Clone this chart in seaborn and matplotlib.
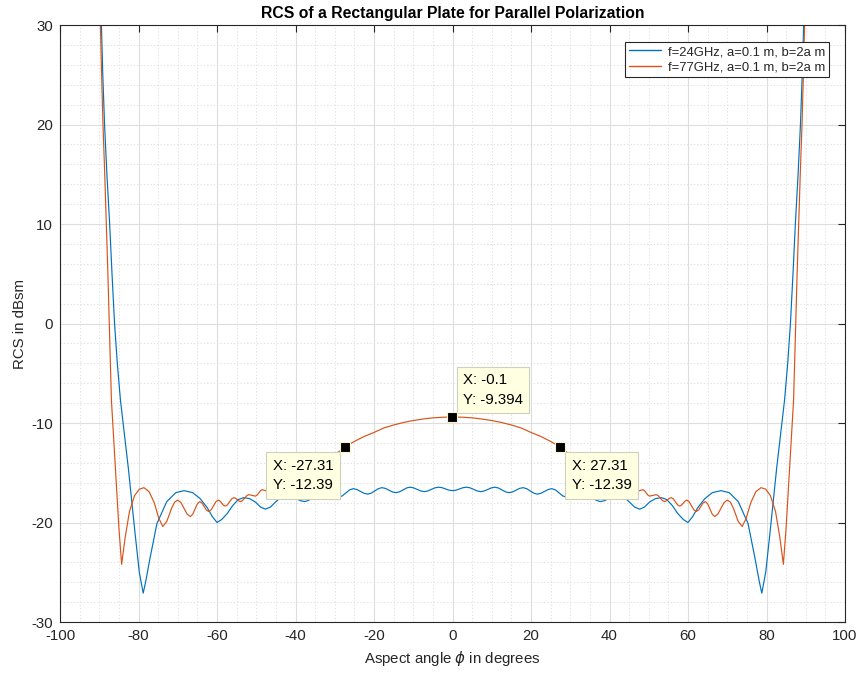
import matplotlib
matplotlib.use("Agg")
import matplotlib.pyplot as plt
from matplotlib.lines import Line2D
from matplotlib.ticker import MultipleLocator
import pandas as pd
import seaborn as sns

# ---- data: RCS (dBsm) versus aspect angle (degrees) ----
angle_24 = [
    -90.0, -89.45, -89.1, -88.65, -88.05, -87.35, -86.75, -86.1, -85.4, -84.6,
    -82.6, -80.9, -79.8, -78.8, -78.2, -77.0, -75.3, -72.8, -70.5, -68.4,
    -66.2, -64.3, -62.5, -61.2, -60.0, -58.8, -57.4, -56.0, -54.6, -53.2,
    -51.7, -50.2, -48.9, -47.7, -46.4, -45.1, -43.8, -42.5, -41.2, -40.0,
    -38.8, -37.6, -36.5, -35.4, -34.3, -33.2, -32.2, -31.1, -30.0, -29.0,
    -28.1, -27.15, -26.2, -25.3, -24.4, -23.45, -22.5, -21.6, -20.7, -19.8,
    -18.9, -18.0, -17.1, -16.2, -15.3, -14.4, -13.5, -12.6, -11.7, -10.8,
    -9.9, -9.0, -8.1, -7.2, -6.3, -5.4, -4.5, -3.6, -2.7, -1.8,
    -0.9, 0.0, 0.9, 1.8, 2.7, 3.6, 4.5, 5.4, 6.3, 7.2,
    8.1, 9.0, 9.9, 10.8, 11.7, 12.6, 13.5, 14.4, 15.3, 16.2,
    17.1, 18.0, 18.9, 19.8, 20.7, 21.6, 22.5, 23.45, 24.4, 25.3,
    26.2, 27.15, 28.1, 29.0, 30.0, 31.1, 32.2, 33.2, 34.3, 35.4,
    36.5, 37.6, 38.8, 40.0, 41.2, 42.5, 43.8, 45.1, 46.4, 47.7,
    48.9, 50.2, 51.7, 53.2, 54.6, 56.0, 57.4, 58.8, 60.0, 61.2,
    62.5, 64.3, 66.2, 68.4, 70.5, 72.8, 75.3, 77.0, 78.2, 78.8,
    79.8, 80.9, 82.6, 84.6, 85.4, 86.1, 86.75, 87.35, 88.05, 88.65,
    89.1, 89.45, 90.0,
]
rcs_24 = [
    37.0, 30.0, 25.0, 20.0, 15.0, 10.0, 5.0, 0.0, -4.0, -7.7,
    -14.5, -21.0, -25.0, -27.1, -26.0, -23.45, -20.1, -17.9, -17.0, -16.8,
    -17.0, -17.6, -18.5, -19.4, -20.0, -19.7, -19.1, -18.3, -17.7, -17.5,
    -17.6, -17.95, -18.45, -18.66, -18.45, -17.95, -17.5, -17.3, -17.35, -17.55,
    -17.8, -17.9, -17.74, -17.35, -16.96, -16.8, -16.9, -17.12, -17.35, -17.45,
    -17.33, -17.02, -16.72, -16.6, -16.68, -16.88, -17.07, -17.15, -17.05, -16.83,
    -16.6, -16.5, -16.57, -16.75, -16.93, -17.0, -16.92, -16.72, -16.53, -16.45,
    -16.52, -16.68, -16.83, -16.9, -16.83, -16.68, -16.52, -16.45, -16.5, -16.62,
    -16.75, -16.8, -16.75, -16.62, -16.5, -16.45, -16.52, -16.68, -16.83, -16.9,
    -16.83, -16.68, -16.52, -16.45, -16.53, -16.72, -16.92, -17.0, -16.93, -16.75,
    -16.57, -16.5, -16.6, -16.83, -17.05, -17.15, -17.07, -16.88, -16.68, -16.6,
    -16.72, -17.02, -17.33, -17.45, -17.35, -17.12, -16.9, -16.8, -16.96, -17.35,
    -17.74, -17.9, -17.8, -17.55, -17.35, -17.3, -17.5, -17.95, -18.45, -18.66,
    -18.45, -17.95, -17.6, -17.5, -17.7, -18.3, -19.1, -19.7, -20.0, -19.4,
    -18.5, -17.6, -17.0, -16.8, -17.0, -17.9, -20.1, -23.45, -26.0, -27.1,
    -25.0, -21.0, -14.5, -7.7, -4.0, 0.0, 5.0, 10.0, 15.0, 20.0,
    25.0, 30.0, 37.0,
]

angle_77 = [
    -90.0, -89.7, -89.4, -89.05, -88.6, -88.2, -87.8, -87.45, -86.9, -85.9,
    -85.0, -84.3, -83.4, -82.3, -81.0, -79.8, -78.6, -77.3, -76.0, -74.8,
    -73.8, -72.8, -71.6, -70.8, -70.0, -69.2, -68.4, -67.6, -66.8, -66.2,
    -65.6, -65.0, -64.4, -63.8, -63.25, -62.7, -62.1, -61.5, -60.9, -60.3,
    -59.7, -59.25, -58.8, -58.35, -57.9, -57.35, -56.8, -56.25, -55.7, -55.3,
    -54.85, -54.4, -54.0, -53.5, -52.95, -52.4, -51.9, -51.05, -50.2, -49.8,
    -49.35, -48.9, -48.5, -47.7, -46.9, -45.5, -43.0, -40.0, -37.0, -33.5,
    -31.0, -29.0, -27.31, -25.0, -22.5, -20.0, -17.5, -15.0, -12.5, -10.0,
    -7.5, -5.0, -2.5, -0.1, 0.1, 2.5, 5.0, 7.5, 10.0, 12.5,
    15.0, 17.5, 20.0, 22.5, 25.0, 27.31, 29.0, 31.0, 33.5, 37.0,
    40.0, 43.0, 45.5, 46.9, 47.7, 48.5, 48.9, 49.35, 49.8, 50.2,
    51.05, 51.9, 52.4, 52.95, 53.5, 54.0, 54.4, 54.85, 55.3, 55.7,
    56.25, 56.8, 57.35, 57.9, 58.35, 58.8, 59.25, 59.7, 60.3, 60.9,
    61.5, 62.1, 62.7, 63.25, 63.8, 64.4, 65.0, 65.6, 66.2, 66.8,
    67.6, 68.4, 69.2, 70.0, 70.8, 71.6, 72.8, 73.8, 74.8, 76.0,
    77.3, 78.6, 79.8, 81.0, 82.3, 83.4, 84.3, 85.0, 85.9, 86.9,
    87.45, 87.8, 88.2, 88.6, 89.05, 89.4, 89.7, 90.0,
]
rcs_77 = [
    34.0, 30.0, 25.0, 20.0, 15.0, 10.0, 5.0, 0.0, -7.7, -14.5,
    -20.5, -24.2, -21.5, -18.9, -17.3, -16.65, -16.5, -16.9, -18.0, -19.6,
    -20.4, -19.9, -18.6, -17.95, -17.75, -17.99, -18.58, -19.16, -19.4, -19.18,
    -18.65, -18.12, -17.9, -18.05, -18.4, -18.75, -18.9, -18.73, -18.33, -17.92,
    -17.75, -17.84, -18.05, -18.26, -18.35, -18.23, -17.93, -17.62, -17.5, -17.56,
    -17.7, -17.84, -17.9, -17.8, -17.55, -17.3, -17.2, -17.28, -17.35, -17.25,
    -17.03, -16.8, -16.7, -16.8, -16.85, -16.5, -16.2, -15.7, -15.2, -14.3,
    -13.4, -12.9, -12.39, -11.85, -11.35, -10.95, -10.5, -10.2, -9.95, -9.75,
    -9.6, -9.48, -9.42, -9.394, -9.394, -9.42, -9.48, -9.6, -9.75, -9.95,
    -10.2, -10.5, -10.95, -11.35, -11.85, -12.39, -12.9, -13.4, -14.3, -15.2,
    -15.7, -16.2, -16.5, -16.85, -16.8, -16.7, -16.8, -17.03, -17.25, -17.35,
    -17.28, -17.2, -17.3, -17.55, -17.8, -17.9, -17.84, -17.7, -17.56, -17.5,
    -17.62, -17.93, -18.23, -18.35, -18.26, -18.05, -17.84, -17.75, -17.92, -18.33,
    -18.73, -18.9, -18.75, -18.4, -18.05, -17.9, -18.12, -18.65, -19.18, -19.4,
    -19.16, -18.58, -17.99, -17.75, -17.95, -18.6, -19.9, -20.4, -19.6, -18.0,
    -16.9, -16.5, -16.65, -17.3, -18.9, -21.5, -24.2, -20.5, -14.5, -7.7,
    0.0, 5.0, 10.0, 15.0, 20.0, 25.0, 30.0, 34.0,
]

series_labels = ["f=24GHz, a=0.1 m, b=2a m", "f=77GHz, a=0.1 m, b=2a m"]
series_colors = ["#0072BD", "#D95319"]

# data tips placed on the 77 GHz curve
tip_angles = [-27.31, -0.1, 27.31]

x_ticks = [-100, -80, -60, -40, -20, 0, 20, 40, 60, 80, 100]
y_ticks = [-30, -20, -10, 0, 10, 20, 30]

df = pd.concat([
    pd.DataFrame({"angle": angle_24, "rcs": rcs_24, "series": series_labels[0]}),
    pd.DataFrame({"angle": angle_77, "rcs": rcs_77, "series": series_labels[1]}),
], ignore_index=True)

# ---- styling ----
sns.set_theme(style="white")
plt.rcParams["font.family"] = ["Liberation Sans", "DejaVu Sans"]
plt.rcParams["mathtext.fontset"] = "dejavusans"
plt.rcParams["axes.unicode_minus"] = False
ink = "#262626"

W, H = 857, 673
fig = plt.figure(figsize=(W / 100, H / 100), dpi=100)
fig.patch.set_facecolor("white")
ax = fig.add_axes([60 / W, 1 - 622 / H, 785 / W, 597 / H])
ax.set_facecolor("white")

sns.lineplot(data=df, x="angle", y="rcs", hue="series",
             palette=dict(zip(series_labels, series_colors)),
             estimator=None, sort=False, linewidth=0.85, ax=ax, legend=False)

ax.set_xlim(-100, 100)
ax.set_ylim(-30, 30)
ax.set_xticks(x_ticks)
ax.set_yticks(y_ticks)
ax.xaxis.set_minor_locator(MultipleLocator(5))
ax.yaxis.set_minor_locator(MultipleLocator(2))
ax.grid(which="major", color="#DEDEDE", linewidth=0.8, linestyle="-")
ax.grid(which="minor", color="#DADADA", linewidth=0.6, linestyle=(0, (1.5, 2.5)))
ax.set_axisbelow(True)

ax.tick_params(which="major", direction="in", top=True, right=True,
               length=5, width=0.8, color=ink, labelcolor=ink,
               labelsize=10.8, pad=5)
ax.tick_params(which="minor", length=0)
for sp in ax.spines.values():
    sp.set_color(ink)
    sp.set_linewidth(0.8)
    sp.set_visible(True)

ax.set_xlabel(r"Aspect angle $\phi$ in degrees", fontsize=10.8, color=ink, labelpad=4)
ax.set_ylabel("RCS in dBsm", fontsize=10.8, color=ink, labelpad=3)
ax.set_title("RCS of a Rectangular Plate for Parallel Polarization",
             fontsize=11.3, fontweight="bold", color="black", pad=5)

handles = [Line2D([], [], color=c, linewidth=1.0) for c in series_colors]
leg = ax.legend(handles, series_labels, loc="upper right",
                bbox_to_anchor=(1 - 16 / 785, 1 - 17 / 597), borderaxespad=0,
                frameon=True, fancybox=False, framealpha=1, edgecolor=ink,
                fontsize=9.4, handlelength=2.5, handletextpad=0.5,
                borderpad=0.3, labelspacing=0.25)
leg.get_frame().set_linewidth(0.8)
for t in leg.get_texts():
    t.set_color(ink)

# ---- data tips ----
placements = {
    -27.31: ((-12, -12), "right", "top"),
    -0.1: ((11, 10), "left", "bottom"),
    27.31: ((12, -12), "left", "top"),
}
for a in tip_angles:
    i = angle_77.index(a)
    x, y = angle_77[i], rcs_77[i]
    (dx, dy), ha, va = placements[a]
    ax.annotate(f"X: {x:.4g}\nY: {y:.4g}", xy=(x, y), xytext=(dx, dy),
                textcoords="offset pixels", ha=ha, va=va, fontsize=10.8,
                color="black", linespacing=1.5, zorder=6,
                bbox=dict(boxstyle="square,pad=0.42", fc="#FFFFE1",
                          ec="#CFCFC0", lw=0.8))
    ax.plot([x], [y], marker="s", markersize=7.8, markerfacecolor="black",
            markeredgecolor="#F5F5D0", markeredgewidth=0.8, zorder=7)

fig.savefig("out.png", dpi=100, facecolor="white")
